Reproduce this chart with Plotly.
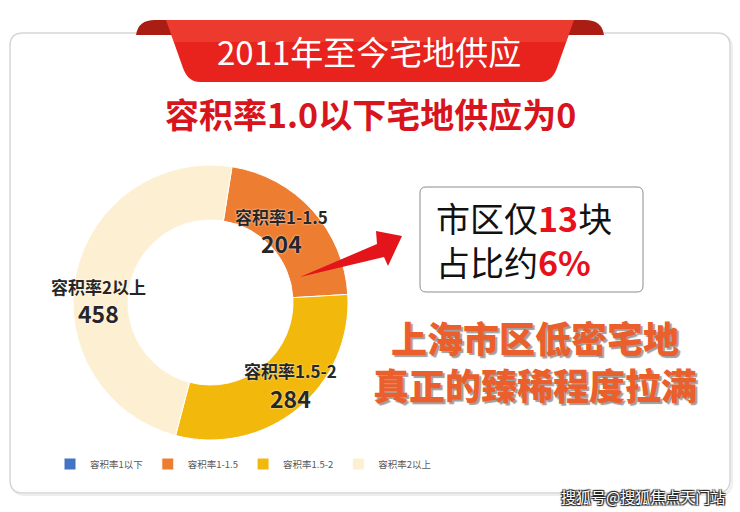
import plotly.graph_objects as go

W, H = 740, 512

# data
categories = ['容积率1以下', '容积率1-1.5', '容积率1.5-2', '容积率2以上']
supply = [0, 204, 284, 458]
colors = ['#4472C4', '#ED7D31', '#F2B90C', '#FDF0D2']

title_text = '2011年至今宅地供应'
subtitle_text = '容积率1.0以下宅地供应为0'
city_count = 13
city_share = '6%'
tagline = ['上海市区低密宅地', '真正的臻稀程度拉满']
watermark = '搜狐号@搜狐焦点天门站'


def px(x):
    return x / W


def py(y):
    return 1 - y / H


def path(cmds):
    # cmds: list of (letter, [x, y, x, y ...]) in pixels
    out = []
    for c, pts in cmds:
        if c == 'Z':
            out.append('Z')
            continue
        coords = []
        for i in range(0, len(pts), 2):
            coords.append('%.5f,%.5f' % (px(pts[i]), py(pts[i + 1])))
        out.append(c + ' '.join(coords))
    return ' '.join(out)


def rounded(x0, y0, x1, y1, r):
    return path([('M', [x0 + r, y0]), ('L', [x1 - r, y0]), ('Q', [x1, y0, x1, y0 + r]),
                 ('L', [x1, y1 - r]), ('Q', [x1, y1, x1 - r, y1]),
                 ('L', [x0 + r, y1]), ('Q', [x0, y1, x0, y1 - r]),
                 ('L', [x0, y0 + r]), ('Q', [x0, y0, x0 + r, y0]), ('Z', [])])


def note(text, x, y, size, color, xanchor='center', shadow=None, weight=None, align='center'):
    f = dict(family='Noto Sans CJK SC', size=size, color=color)
    if shadow:
        f['shadow'] = shadow
    if weight:
        f['weight'] = weight
    return dict(text=text, x=px(x), y=py(y), xref='paper', yref='paper',
                xanchor=xanchor, yanchor='middle', showarrow=False, font=f, align=align)


fig = go.Figure()

fig.add_trace(go.Pie(
    labels=categories,
    values=supply,
    hole=0.6,
    sort=False,
    direction='clockwise',
    rotation=9,
    marker=dict(colors=colors, line=dict(color='white', width=1)),
    textinfo='none',
    hoverinfo='label+value',
    domain=dict(x=[px(73), px(348)], y=[py(440), py(165)]),
))

shapes = []
# card (soft shadow + border)
shapes.append(dict(type='path', xref='paper', yref='paper', path=rounded(12, 35, 732, 495, 13),
                   line=dict(color='#EEEEEE', width=2), fillcolor='white', layer='below'))
shapes.append(dict(type='path', xref='paper', yref='paper', path=rounded(10, 33, 730, 493, 13),
                   line=dict(color='#D6D6D6', width=1.5), fillcolor='white', layer='below'))
# banner folds
shapes.append(dict(type='path', xref='paper', yref='paper',
                   path=path([('M', [136, 35]), ('Q', [138, 20, 155, 20]),
                              ('L', [168, 20]), ('L', [174, 35]), ('Z', [])]),
                   fillcolor='#A91D12', line=dict(width=0)))
shapes.append(dict(type='path', xref='paper', yref='paper',
                   path=path([('M', [566, 35]), ('L', [572, 20]), ('L', [585, 20]),
                              ('Q', [602, 20, 604, 35]), ('Z', [])]),
                   fillcolor='#A91D12', line=dict(width=0)))
# banner body
shapes.append(dict(type='path', xref='paper', yref='paper',
                   path=path([('M', [166, 20]), ('L', [574, 20]), ('L', [557, 68]),
                              ('Q', [552, 82, 540, 82]), ('L', [200, 82]),
                              ('Q', [188, 82, 183, 68]), ('Z', [])]),
                   fillcolor='#E8231E', line=dict(width=0)))
shapes.append(dict(type='path', xref='paper', yref='paper',
                   path=path([('M', [166, 20]), ('L', [574, 20]), ('L', [566, 42]),
                              ('L', [174, 42]), ('Z', [])]),
                   fillcolor='#EE4A3A', line=dict(width=0), opacity=0.6))
# info box
shapes.append(dict(type='path', xref='paper', yref='paper', path=rounded(420, 187, 643, 292, 6),
                   line=dict(color='#8C8C8C', width=1), fillcolor='white'))
# arrow
shapes.append(dict(type='path', xref='paper', yref='paper',
                   path=path([('M', [300, 277]), ('L', [377, 244]), ('L', [376, 231]),
                              ('L', [402, 236]), ('L', [388, 266]), ('L', [384, 257]),
                              ('Z', [])]),
                   fillcolor='#E4141B', line=dict(width=0)))

annotations = []
annotations.append(note(title_text, 369, 51, 33, 'white'))
annotations.append(note('<b>' + subtitle_text + '</b>', 370, 113, 34, '#D8141C'))

# donut labels
label_pos = [None, (281, 216, 243), (290, 370, 398), (98, 286, 313)]
glow = '0px 0px 2px white'
for name, val, pos in zip(categories, supply, label_pos):
    if pos is None:
        continue
    x, y1, y2 = pos
    annotations.append(note('<b>' + name + '</b>', x, y1, 17, '#262626', shadow=glow))
    annotations.append(note('<b>%d</b>' % val, x, y2, 23, '#262626', shadow=glow))

# info box text
box_text = ('市区仅<span style="color:#E8101A"><b>%d</b></span>块<br>'
            '占比约<span style="color:#E8101A"><b>%s</b></span>') % (city_count, city_share)
annotations.append(note(box_text, 434, 239, 34, '#111111', xanchor='left', align='left'))

# tagline
annotations.append(note('<br>'.join(tagline), 535, 360, 36, '#EA5F2C',
                        shadow='2px 2px 1px #9E9E9E', weight=900))

annotations.append(note(watermark, 643, 496, 15, 'white',
                        shadow='1px 1px 1px #222, -1px -1px 1px #222, 1px -1px 1px #222, -1px 1px 1px #222'))

fig.update_layout(
    width=W, height=H,
    margin=dict(l=0, r=0, t=0, b=0),
    paper_bgcolor='white',
    plot_bgcolor='white',
    shapes=shapes,
    annotations=annotations,
    showlegend=True,
    legend=dict(orientation='h', x=px(50), y=py(464), xanchor='left', yanchor='middle',
                font=dict(family='Noto Sans CJK SC', size=9.5, color='#595959'),
                itemwidth=30, bgcolor='rgba(0,0,0,0)'),
    font=dict(family='Noto Sans CJK SC'),
)

fig.write_html('out.html', config={'displayModeBar': False},
               post_script="document.body.style.margin='0px';")
